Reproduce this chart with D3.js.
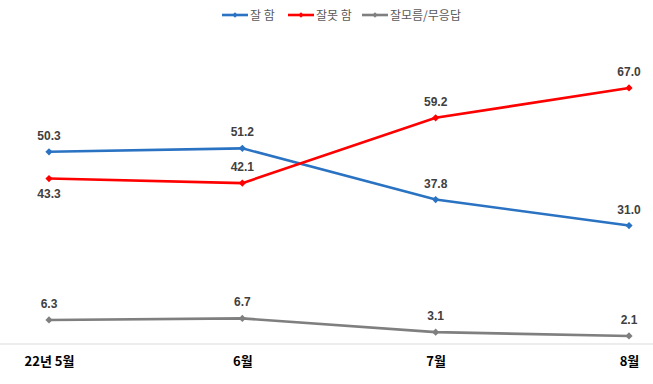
<!DOCTYPE html>
<html>
<head>
<meta charset="utf-8">
<script src="https://cdn.jsdelivr.net/npm/d3@7"></script>
<style>
  body { margin: 0; background: #fff; }
  svg { display: block; }
</style>
</head>
<body>
<div id="chart"></div>
<script>
var size = { width: 653, height: 384 };

var months = ["22년 5월", "6월", "7월", "8월"];
var good = [50.3, 51.2, 37.8, 31.0];
var bad = [43.3, 42.1, 59.2, 67.0];
var unknown = [6.3, 6.7, 3.1, 2.1];
var seriesNames = ["잘 함", "잘못 함", "잘모름/무응답"];
var seriesColors = ["#2a72c2", "#ff0000", "#7f7f7f"];
// label placement for each point: -1 above, 1 below
var goodPos = [-1, -1, -1, -1];
var badPos = [1, -1, -1, -1];
var unknownPos = [-1, -1, -1, -1];

var series = [
    { name: seriesNames[0], values: good, color: seriesColors[0], pos: goodPos },
    { name: seriesNames[1], values: bad, color: seriesColors[1], pos: badPos },
    { name: seriesNames[2], values: unknown, color: seriesColors[2], pos: unknownPos }
];

var svg = d3.select("#chart").append("svg")
    .attr("width", size.width)
    .attr("height", size.height);

var x = d3.scalePoint()
    .domain(months)
    .range([49, 629]);

var y = d3.scaleLinear()
    .domain([0, 80])
    .range([344, 38.3]);

// Axis baseline
var axis = svg.append("g")
    .attr("transform", "translate(0," + y(0) + ")")
    .call(d3.axisBottom(x).tickSize(0).tickPadding(13));
axis.select(".domain")
    .attr("d", "M0,0H" + size.width)
    .attr("stroke", "#d9d9d9")
    .attr("stroke-width", 1);
axis.selectAll("text")
    .attr("font-family", "'Liberation Sans Narrow', 'Noto Sans CJK KR', sans-serif")
    .attr("font-weight", "bold")
    .attr("font-size", 13)
    .attr("fill", "#000");

var line = d3.line()
    .x((d, i) => x(months[i]))
    .y(d => y(d));

// square rotated 45 degrees -> even diamond marker
var marker = d3.symbol().type(d3.symbolSquare).size(26);

series.forEach(s => {
    var g = svg.append("g");
    g.append("path")
        .datum(s.values)
        .attr("d", line)
        .attr("fill", "none")
        .attr("stroke", s.color)
        .attr("stroke-width", 2.6);

    g.selectAll(".pt")
        .data(s.values)
        .enter()
        .append("path")
        .attr("transform", (d, i) => "translate(" + x(months[i]) + "," + y(d) + ") rotate(45)")
        .attr("d", marker)
        .attr("fill", s.color);

    g.selectAll(".lbl")
        .data(s.values)
        .enter()
        .append("text")
        .attr("x", (d, i) => x(months[i]))
        .attr("y", (d, i) => y(d) + (s.pos[i] < 0 ? -12 : 19))
        .attr("text-anchor", "middle")
        .attr("font-family", "'Liberation Sans Narrow', 'Liberation Sans', sans-serif")
        .attr("font-weight", "bold")
        .attr("font-size", 12)
        .attr("fill", "#404040")
        .text(d => d.toFixed(1));
});

// Legend
var legendX = [222, 288, 362];
var legend = svg.append("g");
series.forEach((s, i) => {
    var lg = legend.append("g")
        .attr("transform", "translate(" + legendX[i] + ",15)");
    lg.append("line")
        .attr("x1", 0).attr("x2", 26)
        .attr("stroke", s.color)
        .attr("stroke-width", 2.6);
    lg.append("path")
        .attr("transform", "translate(13,0) rotate(45)")
        .attr("d", d3.symbol().type(d3.symbolSquare).size(14))
        .attr("fill", s.color);
    lg.append("text")
        .attr("x", 28)
        .attr("y", 4.5)
        .attr("font-family", "'Noto Sans CJK KR', sans-serif")
        .attr("font-size", 12)
        .attr("fill", "#595959")
        .text(s.name);
});
</script>
</body>
</html>
